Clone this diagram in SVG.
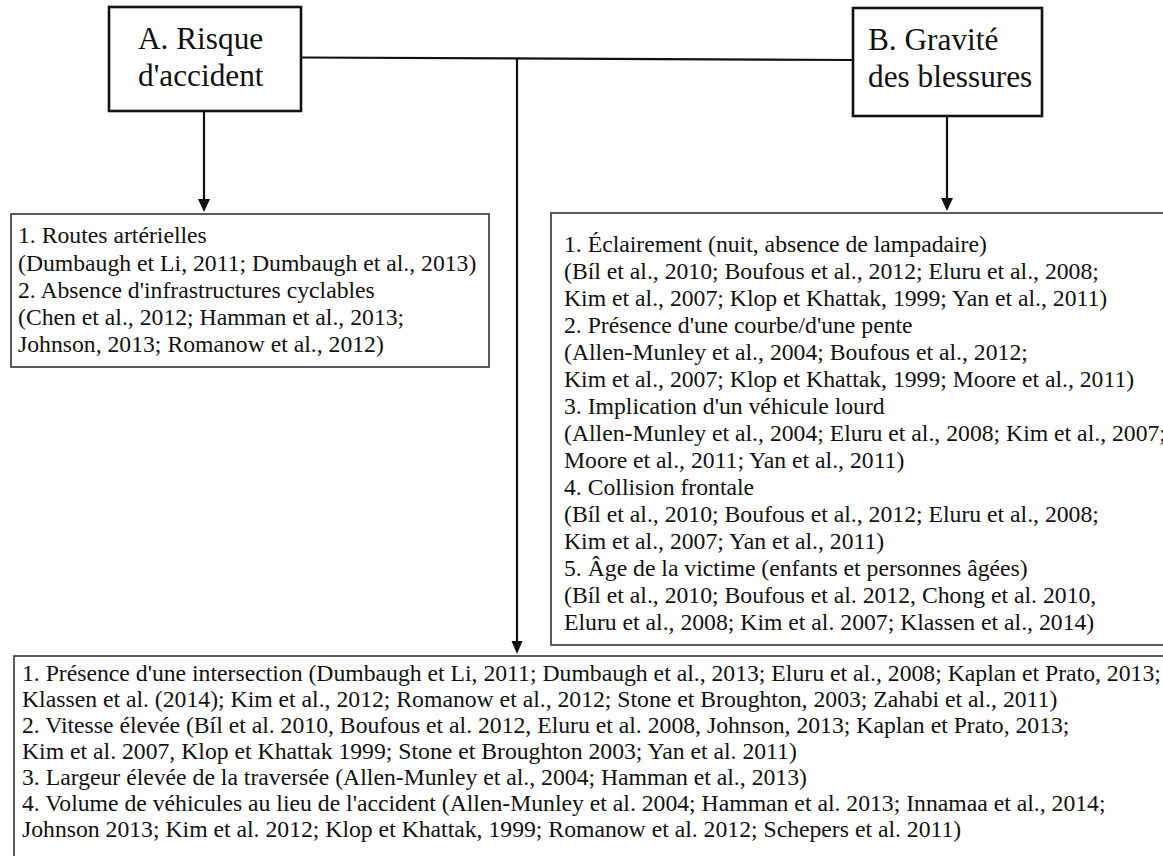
<svg xmlns="http://www.w3.org/2000/svg" width="1163" height="856" viewBox="0 0 1163 856">
<defs>
<marker id="arr" markerUnits="userSpaceOnUse" markerWidth="12" markerHeight="13" viewBox="0 0 12 13" refX="6" refY="13" orient="auto-start-reverse">
<path d="M0,0 L12,0 L6,13 Z" fill="#111"/>
</marker>
<style>
.title{font-family:"Liberation Serif","Times New Roman",serif;font-size:31.3px;fill:#111}
.body{font-family:"Liberation Serif","Times New Roman",serif;font-size:23.7px;fill:#111}
.hbox{fill:#fff;stroke:#111;stroke-width:2.6}
.cbox{fill:#fff;stroke:#333;stroke-width:1.6}
.conn{fill:none;stroke:#111;stroke-width:2.2}
</style>
</defs>
<rect width="1163" height="856" fill="#fff"/>
<g id="connectors">
<path class="conn" d="M301,57.5 L853,60"/>
<line class="conn" x1="204" y1="111" x2="204" y2="200"/>
<path d="M198,199 L210,199 L204,212 Z" fill="#111"/>
<line class="conn" x1="947" y1="116" x2="947" y2="199"/>
<path d="M941,198 L953,198 L947,211 Z" fill="#111"/>
<line class="conn" x1="517" y1="58.5" x2="517" y2="642"/>
<path d="M511.5,641 L522.5,641 L517,654 Z" fill="#111"/>
</g>
<g id="nodeA">
<rect class="hbox" x="109" y="7" width="192" height="104"/>
<text class="title" x="138" y="49">A. Risque</text>
<text class="title" x="138" y="86">d'accident</text>
</g>
<g id="nodeB">
<rect class="hbox" x="853" y="8" width="189" height="108"/>
<text class="title" x="868" y="50">B. Gravité</text>
<text class="title" x="868" y="87">des blessures</text>
</g>
<g id="nodeRisque">
<rect class="cbox" x="11" y="214" width="478" height="153"/>
<text class="body">
<tspan x="18" y="243">1. Routes artérielles</tspan>
<tspan x="18" y="270.5">(Dumbaugh et Li, 2011; Dumbaugh et al., 2013)</tspan>
<tspan x="18" y="297.5">2. Absence d'infrastructures cyclables</tspan>
<tspan x="18" y="324.5">(Chen et al., 2012; Hamman et al., 2013;</tspan>
<tspan x="18" y="351.5">Johnson, 2013; Romanow et al., 2012)</tspan>
</text>
</g>
<g id="nodeGravite">
<rect class="cbox" x="551" y="213" width="630" height="432"/>
<text class="body">
<tspan x="564" y="252">1. Éclairement (nuit, absence de lampadaire)</tspan>
<tspan x="564" y="279">(Bíl et al., 2010; Boufous et al., 2012; Eluru et al., 2008;</tspan>
<tspan x="564" y="306">Kim et al., 2007; Klop et Khattak, 1999; Yan et al., 2011)</tspan>
<tspan x="564" y="333">2. Présence d'une courbe/d'une pente</tspan>
<tspan x="564" y="360">(Allen-Munley et al., 2004; Boufous et al., 2012;</tspan>
<tspan x="564" y="387">Kim et al., 2007; Klop et Khattak, 1999; Moore et al., 2011)</tspan>
<tspan x="564" y="414">3. Implication d'un véhicule lourd</tspan>
<tspan x="564" y="441">(Allen-Munley et al., 2004; Eluru et al., 2008; Kim et al., 2007;</tspan>
<tspan x="564" y="468">Moore et al., 2011; Yan et al., 2011)</tspan>
<tspan x="564" y="495">4. Collision frontale</tspan>
<tspan x="564" y="522">(Bíl et al., 2010; Boufous et al., 2012; Eluru et al., 2008;</tspan>
<tspan x="564" y="549">Kim et al., 2007; Yan et al., 2011)</tspan>
<tspan x="564" y="576">5. Âge de la victime (enfants et personnes âgées)</tspan>
<tspan x="564" y="603">(Bíl et al., 2010; Boufous et al. 2012, Chong et al. 2010,</tspan>
<tspan x="564" y="630">Eluru et al., 2008; Kim et al. 2007; Klassen et al., 2014)</tspan>
</text>
</g>
<g id="nodeCommun">
<rect class="cbox" x="14" y="656" width="1170" height="220"/>
<text class="body">
<tspan x="22" y="681">1. Présence d'une intersection (Dumbaugh et Li, 2011; Dumbaugh et al., 2013; Eluru et al., 2008; Kaplan et Prato, 2013;</tspan>
<tspan x="22" y="707">Klassen et al. (2014); Kim et al., 2012; Romanow et al., 2012; Stone et Broughton, 2003; Zahabi et al., 2011)</tspan>
<tspan x="22" y="733">2. Vitesse élevée (Bíl et al. 2010, Boufous et al. 2012, Eluru et al. 2008, Johnson, 2013; Kaplan et Prato, 2013;</tspan>
<tspan x="22" y="759">Kim et al. 2007, Klop et Khattak 1999; Stone et Broughton 2003; Yan et al. 2011)</tspan>
<tspan x="22" y="785">3. Largeur élevée de la traversée (Allen-Munley et al., 2004; Hamman et al., 2013)</tspan>
<tspan x="22" y="811">4. Volume de véhicules au lieu de l'accident (Allen-Munley et al. 2004; Hamman et al. 2013; Innamaa et al., 2014;</tspan>
<tspan x="22" y="837">Johnson 2013; Kim et al. 2012; Klop et Khattak, 1999; Romanow et al. 2012; Schepers et al. 2011)</tspan>
</text>
</g>
</svg>
